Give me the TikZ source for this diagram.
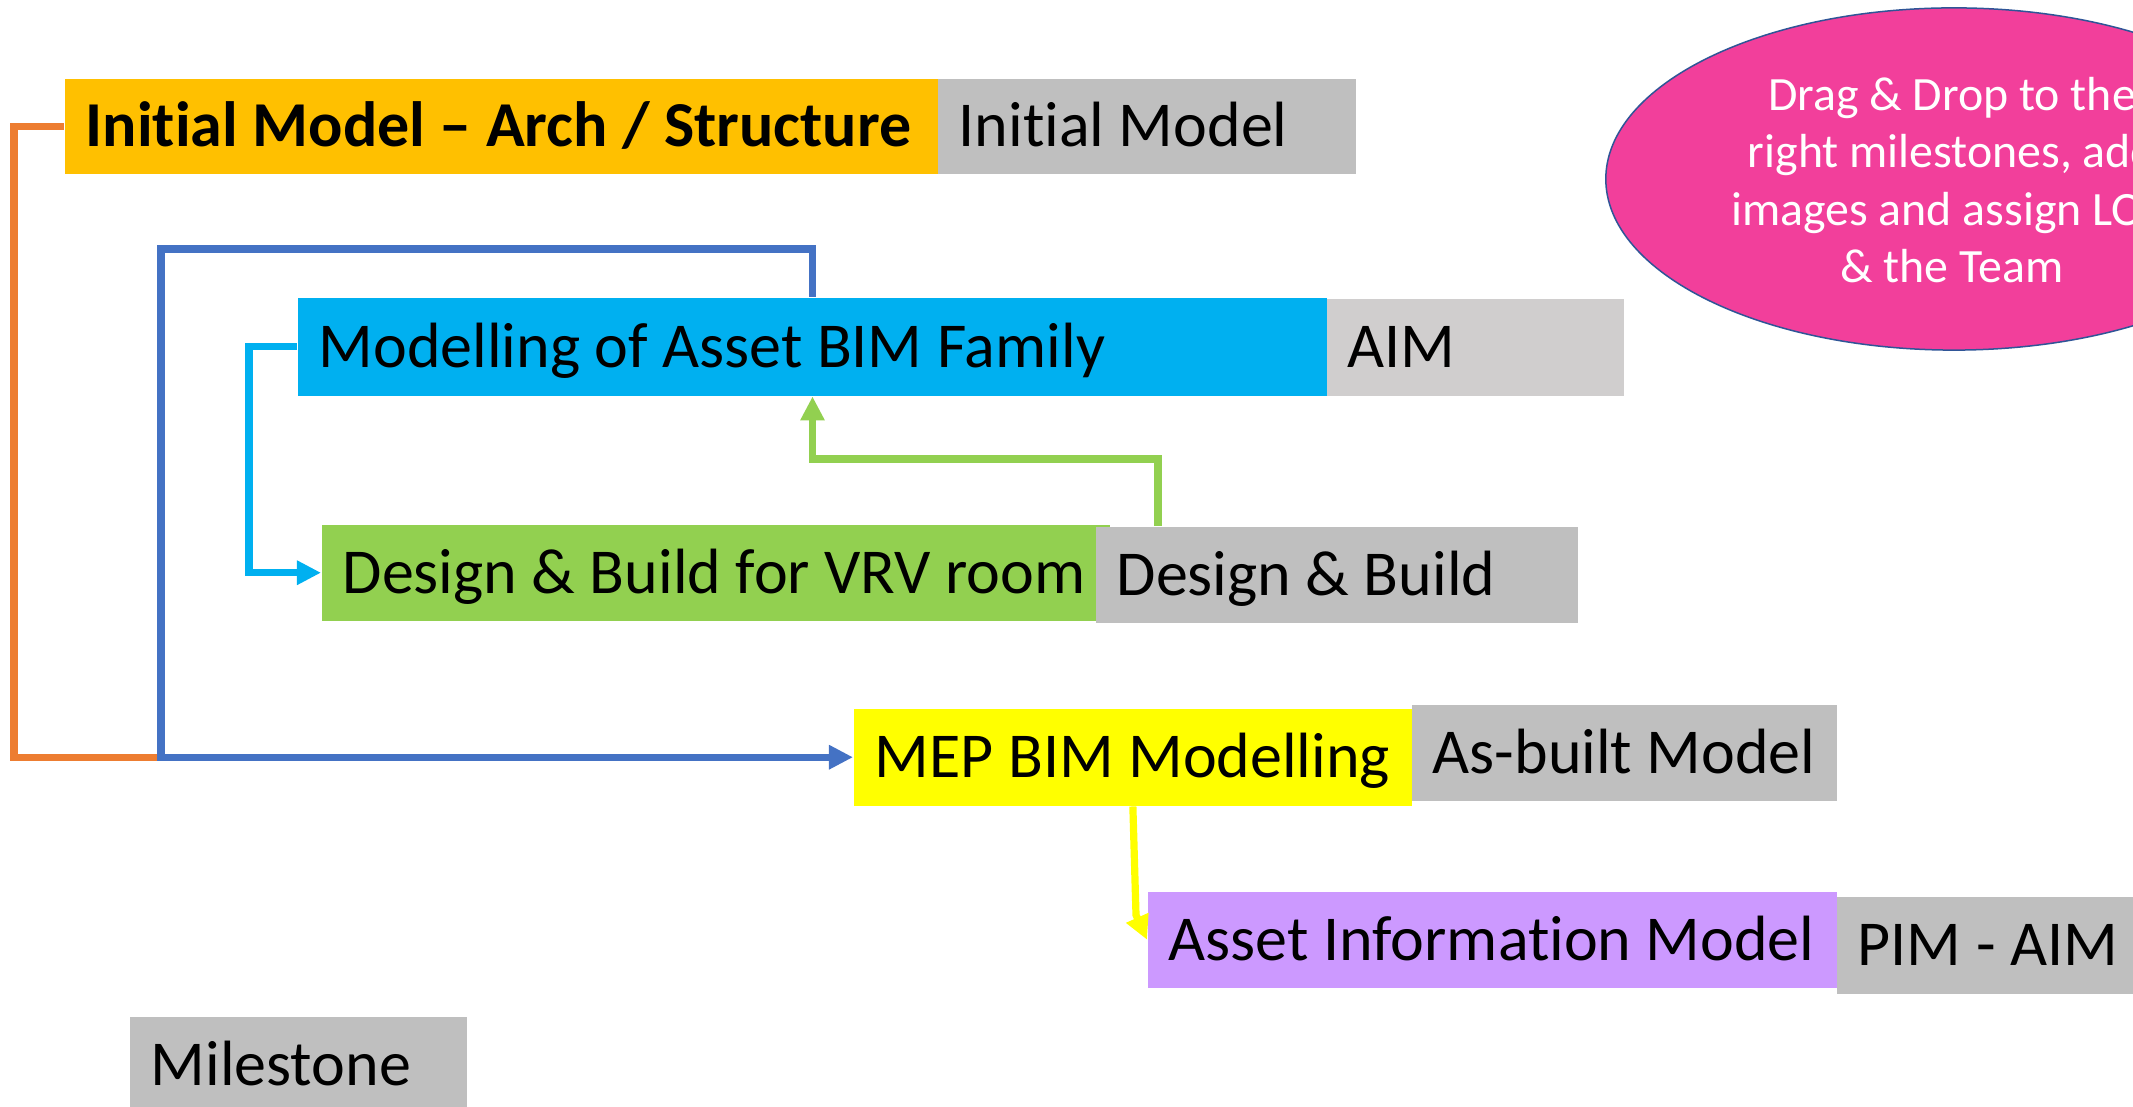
\documentclass[tikz,border=0pt]{standalone}
\usepackage{fontspec}
\setmainfont{Carlito}[Ligatures={TeX,NoCommon}]
\usetikzlibrary{arrows.meta,shapes.geometric,calc}
\definecolor{cOrangeBox}{HTML}{FFC000}
\definecolor{cGrey}{HTML}{BFBFBF}
\definecolor{cLightGrey}{HTML}{D0CECE}
\definecolor{cBlueBox}{HTML}{00B0F0}
\definecolor{cGreenBox}{HTML}{92D050}
\definecolor{cYellowBox}{HTML}{FFFF00}
\definecolor{cPurpleBox}{HTML}{CC99FF}
\definecolor{cPink}{HTML}{F23F9B}
\definecolor{cPinkEdge}{HTML}{2F5597}
\definecolor{cOrangeLine}{HTML}{ED7D31}
\definecolor{cBlueLine}{HTML}{4472C4}
\definecolor{cCyanLine}{HTML}{00B0F0}
\definecolor{cGreenLine}{HTML}{92D050}
\definecolor{cYellowLine}{HTML}{FFFF00}
\newcommand{\lbox}[2]{\hbox to #1{#2\hss}}
\tikzset{
  boxnode/.style={rectangle, anchor=north west, inner xsep=0.21cm, inner ysep=0pt,
    text height=0.412cm, text depth=0pt,
    font=\fontsize{18.2pt}{22pt}\selectfont, text=black},
  conn/.style={line width=0.072cm},
  tipped/.style={-{Triangle[length=0.24cm,width=0.23cm]}},
}
\begin{document}
\begin{tikzpicture}[x=0.01cm,y=-0.01cm]
\useasboundingbox (0,0) rectangle (2133,1107);
\clip (0,0) rectangle (2133,1107);

% ellipse note
\node[ellipse, fill=cPink, draw=cPinkEdge, line width=0.015cm,
  minimum width=6.96cm, minimum height=3.42cm, inner sep=0pt] (drag) at (1954,179) {};
\node[align=center, text=white, inner sep=0pt,
  font=\fontsize{13.6pt}{16.3pt}\selectfont] (dragtext) at (1952,180)
  {Drag \& Drop to the\\ right milestones, add\\ images and assign LOD\\ \& the Team};

% boxes
\node[boxnode, fill=cOrangeBox, minimum width=8.73cm, minimum height=0.95cm,
  font=\fontsize{18.2pt}{22pt}\selectfont\bfseries] (im) at (64,78) {\lbox{8.31cm}{Initial Model – Arch / Structure}};
\node[boxnode, fill=cGrey, minimum width=4.18cm, minimum height=0.95cm] (img) at (937,78) {\lbox{3.76cm}{Initial Model}};

\node[boxnode, fill=cBlueBox, minimum width=10.29cm, minimum height=0.98cm] (mab) at (297,297) {\lbox{9.87cm}{Modelling of Asset BIM Family}};
\node[boxnode, fill=cLightGrey, minimum width=2.97cm, minimum height=0.97cm] (aimg) at (1326,298) {\lbox{2.55cm}{AIM}};

\node[boxnode, fill=cGreenBox, minimum width=7.88cm, minimum height=0.96cm] (dbv) at (321,524) {\lbox{7.46cm}{Design \& Build for VRV room}};
\node[boxnode, fill=cGrey, minimum width=4.82cm, minimum height=0.96cm] (dbg) at (1095,526) {\lbox{4.40cm}{Design \& Build}};

\node[boxnode, fill=cYellowBox, minimum width=5.58cm, minimum height=0.97cm] (mep) at (853,708) {\lbox{5.16cm}{MEP BIM Modelling}};
\node[boxnode, fill=cGrey, minimum width=4.25cm, minimum height=0.96cm] (abg) at (1411,704) {\lbox{3.83cm}{As-built Model}};

\node[boxnode, fill=cPurpleBox, minimum width=6.89cm, minimum height=0.96cm] (aim) at (1147,891) {\lbox{6.47cm}{Asset Information Model}};
\node[boxnode, fill=cGrey, minimum width=3.30cm, minimum height=0.97cm] (pim) at (1836,896) {\lbox{2.88cm}{PIM - AIM}};

\node[boxnode, fill=cGrey, minimum width=3.37cm, minimum height=0.96cm] (ms) at (129,1016) {\lbox{2.95cm}{Milestone}};

% connectors
\coordinate (bj) at ($(mep.west)+(-692,0)$);
\draw[conn, cOrangeLine] (im.west) -- ++(-50,0) |- (bj);
\draw[conn, cBlueLine, tipped] (mab.north) -- ++(0,-48) -| (bj) -- (mep.west);
\draw[conn, cCyanLine, tipped] (mab.west) -- ++(-48,0) |- (dbv.west);
\draw[conn, cGreenLine, tipped] ([xshift=0.63cm]dbg.north west) -- ++(0,-67) -| (mab.south);
\draw[conn, cYellowLine, tipped] (mep.south) -- (1136,915) -- (aim.west);
\end{tikzpicture}
\end{document}
